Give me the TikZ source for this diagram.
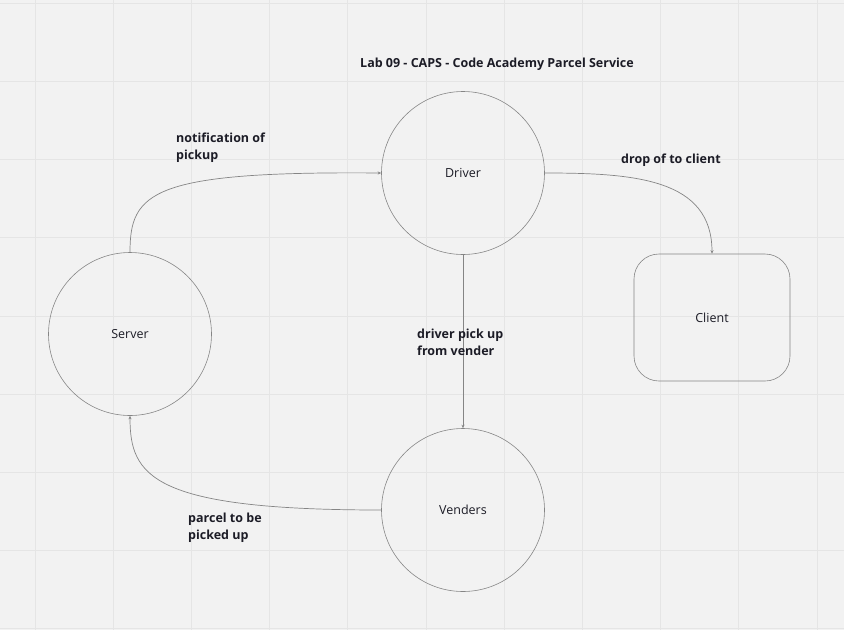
\documentclass[tikz,border=0pt]{standalone}
\usepackage{fontspec}
\setmainfont{Open Sans}
\usetikzlibrary{arrows.meta}
\definecolor{boardbg}{HTML}{F2F2F2}
\definecolor{boardgrid}{HTML}{E5E5E5}
\definecolor{shapeline}{HTML}{858585}
\definecolor{inktext}{HTML}{1C1C26}
\tikzset{
	station/.style={circle, draw=shapeline, line width=0.6pt, minimum size=163pt, inner sep=0pt, text=inktext, font=\fontsize{12.5}{15}\selectfont},
	endpoint/.style={rectangle, rounded corners=25pt, draw=shapeline, line width=0.6pt, minimum width=156pt, minimum height=127pt, text=inktext, font=\fontsize{12.5}{15}\selectfont},
	flowlabel/.style={anchor=base west, inner sep=0pt, align=left, text=inktext, font=\fontsize{12.5}{17}\selectfont\bfseries},
	flow/.style={draw=shapeline, line width=0.7pt, -{Stealth[length=3.5pt,width=3pt]}},
	gridline/.style={draw=boardgrid, line width=1pt}
}

\begin{document}
\begin{tikzpicture}[x=1pt, y=-1pt]
			%%%%% BOARD %%%%%
			
			\fill[boardbg] (0, 0) rectangle (844, 630);
			\useasboundingbox (0, 0) rectangle (844, 630);
			\foreach \gx in {0,...,10}
				\draw[gridline] ({35+78.2*\gx}, 0) -- ({35+78.2*\gx}, 630);
			\foreach \gy in {0,...,8}
				\draw[gridline] (0, {3.3+78.2*\gy}) -- (844, {3.3+78.2*\gy});
			
			%%%%% SHAPES %%%%%
			
			\node[flowlabel] (title) at (360, 67.5) {Lab 09 - CAPS - Code Academy Parcel Service};
			
			\node[station] (driver) at (463, 173) {Driver};
			\node[station] (server) at (130, 334) {Server};
			\node[station] (venders) at (463, 510) {Venders};
			\node[endpoint] (client) at (712, 317.5) {Client};
			
			%%%%% CONNECTORS %%%%%
			
			\draw[flow] (server.north) .. controls +(0, -60) and +(-230, -2) .. (driver.west);
			\draw[flow] (driver.east) .. controls +(90, 0) and +(0, -75) .. (client.north);
			\draw[flow] (driver.south) -- (venders.north);
			\draw[flow] (venders.west) .. controls +(-230, 0) and +(0, 60) .. (server.south);
			
			% base of the last line sets the place
			\node[flowlabel] (pickuplabel) at (176, 159) {notification of\\pickup};
			\node[flowlabel] (droplabel) at (621, 163) {drop of to client};
			\node[flowlabel] (venderlabel) at (417, 355) {driver pick up\\from vender};
			\node[flowlabel] (parcellabel) at (188, 539) {parcel to be\\picked up};
			
			%%%%% END %%%%%
		\end{tikzpicture}
\end{document}
